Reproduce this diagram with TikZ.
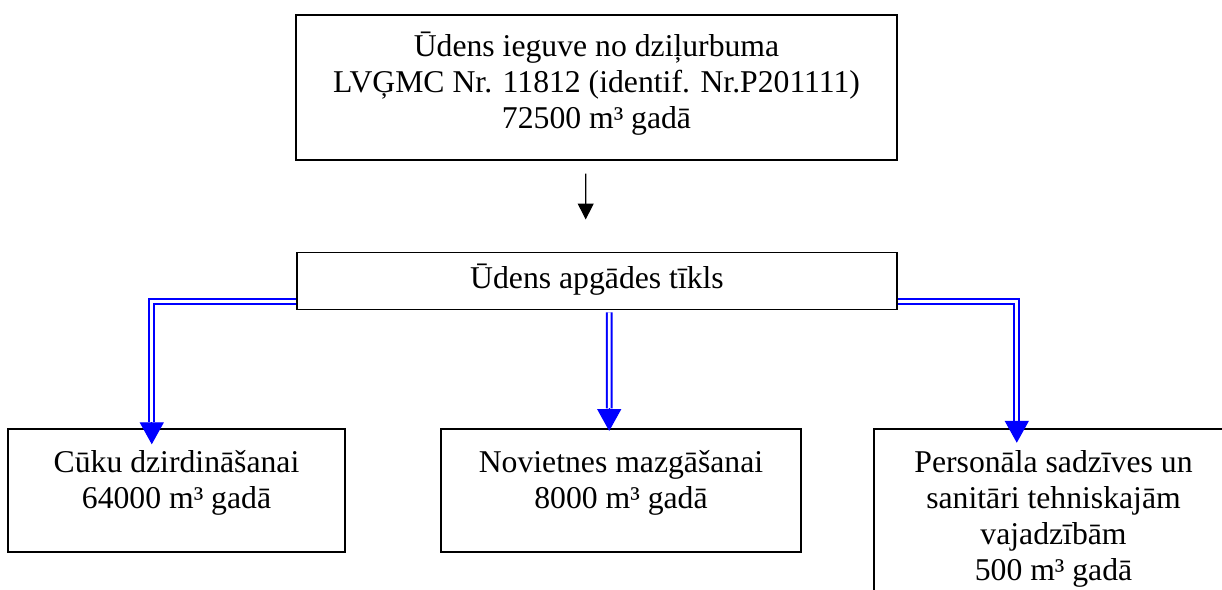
\documentclass[tikz,border=0pt]{standalone}
\usepackage{fontspec}
\setmainfont{Liberation Serif}
\usetikzlibrary{arrows.meta,calc}
\begin{document}
\begin{tikzpicture}[x=0.3785pt,y=-0.3785pt,
  box/.style={draw=black,line width=0.55pt,inner sep=0pt,fill=white},
  txt/.style={align=center,inner sep=0pt,font=\fontsize{12pt}{13.63pt}\selectfont},
  dbl/.style={draw=blue,line width=0.74pt,double=white,double distance=1.05pt},
  bluehead/.style={blue,line width=0.4pt,-{Triangle[width=9.1pt,length=8.3pt]}},
  blackarrow/.style={black,line width=0.45pt,-{Triangle[width=6pt,length=6pt]}}]
\useasboundingbox (0,0) rectangle (1222,589);
\fill[white] (0,0) rectangle (1222,589);
\clip (0,0) rectangle (1222,589);
% boxes
\node[box,minimum width=601*0.3785pt,minimum height=145*0.3785pt] (src) at (596.5,87.5) {};
\node[box,minimum width=600*0.3785pt,minimum height=57*0.3785pt] (net) at (597,281) {};
\node[box,minimum width=337*0.3785pt,minimum height=123*0.3785pt] (c1) at (176.5,490.5) {};
\node[box,minimum width=360*0.3785pt,minimum height=123*0.3785pt] (c2) at (621,490.5) {};
\node[box,minimum width=359*0.3785pt,minimum height=220*0.3785pt] (c3) at (1053.5,539) {};
% texts
\node[txt] (srct) at (596.5,84) {Ūdens ieguve no dziļurbuma\\LVĢMC Nr. 11812 (identif. Nr.P201111)\\72500 m³ gadā};
\node[txt] (nett) at (597,280) {Ūdens apgādes tīkls};
\node[txt] (c1t) at (176.5,483) {Cūku dzirdināšanai\\64000 m³ gadā};
\node[txt] (c2t) at (621,483) {Novietnes mazgāšanai\\8000 m³ gadā};
\node[txt] (c3t) at (1053.5,519) {Personāla sadzīves un\\sanitāri tehniskajām\\vajadzībām\\500 m³ gadā};
% black arrow
\draw[blackarrow] ($(src.south)+(-10.8,13)$) -- ($(net.north)+(-11.3,-32.3)$);
% blue double connectors
\coordinate (k1) at ($(c1.north west)+(144.5,-6)$);
\coordinate (k2) at ($(c2.north)+(-11.8,-20)$);
\coordinate (k3) at ($(c3.north west)+(143.5,-7.5)$);
\draw[dbl] ($(net.south west)+(0,-8.7)$) -| (k1);
\draw[dbl] ($(net.south)+(12.2,2.2)$) -- (k2);
\draw[dbl] ($(net.south east)+(0,-8.7)$) -| (k3);
\draw[bluehead] (k1) -- ($(c1.north west)+(144.5,16)$);
\draw[bluehead] (k2) -- ($(c2.north)+(-11.8,2.7)$);
\draw[bluehead] (k3) -- ($(c3.north west)+(143.5,14.5)$);
\end{tikzpicture}
\end{document}
